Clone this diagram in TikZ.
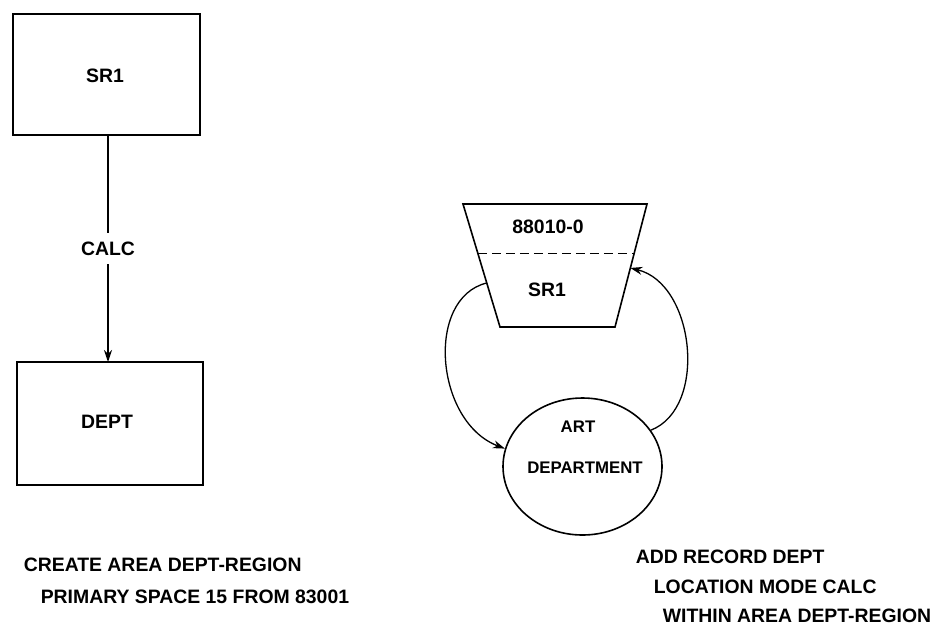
\documentclass[tikz,border=0pt]{standalone}
\usepackage{fontspec}
\setmainfont{Liberation Sans}
\usetikzlibrary{arrows.meta,shapes.geometric,calc}
\begin{document}
\begin{tikzpicture}[x=1pt,y=-1pt,
  line width=1.6pt,
  lbl/.style={inner sep=0pt,font=\fontsize{19.4}{23}\bfseries\selectfont},
  smalllbl/.style={inner sep=0pt,font=\fontsize{16.8}{20}\bfseries\selectfont},
  recbox/.style={draw,rectangle,inner sep=0pt},
  tip/.style={-{Stealth[length=12pt,width=8pt]}}]
\useasboundingbox (0,0) rectangle (933,633);

% record boxes and the CALC link
\node[recbox,minimum width=187pt,minimum height=121pt] (sr1) at (106.5,74.5) {};
\node[lbl] at (105,76) {SR1};
\node[recbox,minimum width=186pt,minimum height=123pt] (dept) at (110,423.5) {};
\node[lbl] at (107,422) {DEPT};
\coordinate (s) at (108,135);
\coordinate (d) at (108,362);
\draw[tip] (s) -- node[lbl,fill=white,inner ysep=9pt,inner xsep=2pt] (calc) {CALC} (d);

% page / record occurrence
\coordinate (tl) at (463,204);
\coordinate (tr) at (647,204);
\coordinate (br) at (615,327);
\coordinate (bl) at (500,327);
\draw (tl) -- (tr) -- (br) -- (bl) -- cycle;
\draw[dash pattern=on 9pt off 5pt,line width=1.4pt] ($(tl)!0.4!(bl)$) -- ($(tr)!0.4!(br)$);
\node[lbl] (page) at (548,227) {88010-0};
\node[lbl] (occ) at (547,290) {SR1};

\node[draw,ellipse,minimum width=159pt,minimum height=137pt,inner sep=0pt] (art) at (582.5,466.5) {};
\node[smalllbl] at (578,427) {ART};
\node[smalllbl] at (585,468) {DEPARTMENT};

\coordinate (lout) at ($(tl)!0.642!(bl)$);
\coordinate (rin) at ($(tr)!0.52!(br)$);
\draw[tip,line width=1.3pt] (lout) .. controls (425,298) and (435,422) .. (art.167);
\draw[tip,line width=1.3pt] (art.28) .. controls (708,408) and (695,284) .. (rin);

% DDL statements
\node[lbl,anchor=west] (c1) at (23,565) {CREATE AREA DEPT-REGION};
\node[lbl,anchor=west] (c2) at (40,597) {PRIMARY SPACE 15 FROM 83001};
\node[lbl,anchor=west] (a1) at (635,557) {ADD RECORD DEPT};
\node[lbl,anchor=west] (a2) at (653,587) {LOCATION MODE CALC};
\node[lbl,anchor=west] (a3) at (662,616) {WITHIN AREA DEPT-REGION};
\end{tikzpicture}
\end{document}
